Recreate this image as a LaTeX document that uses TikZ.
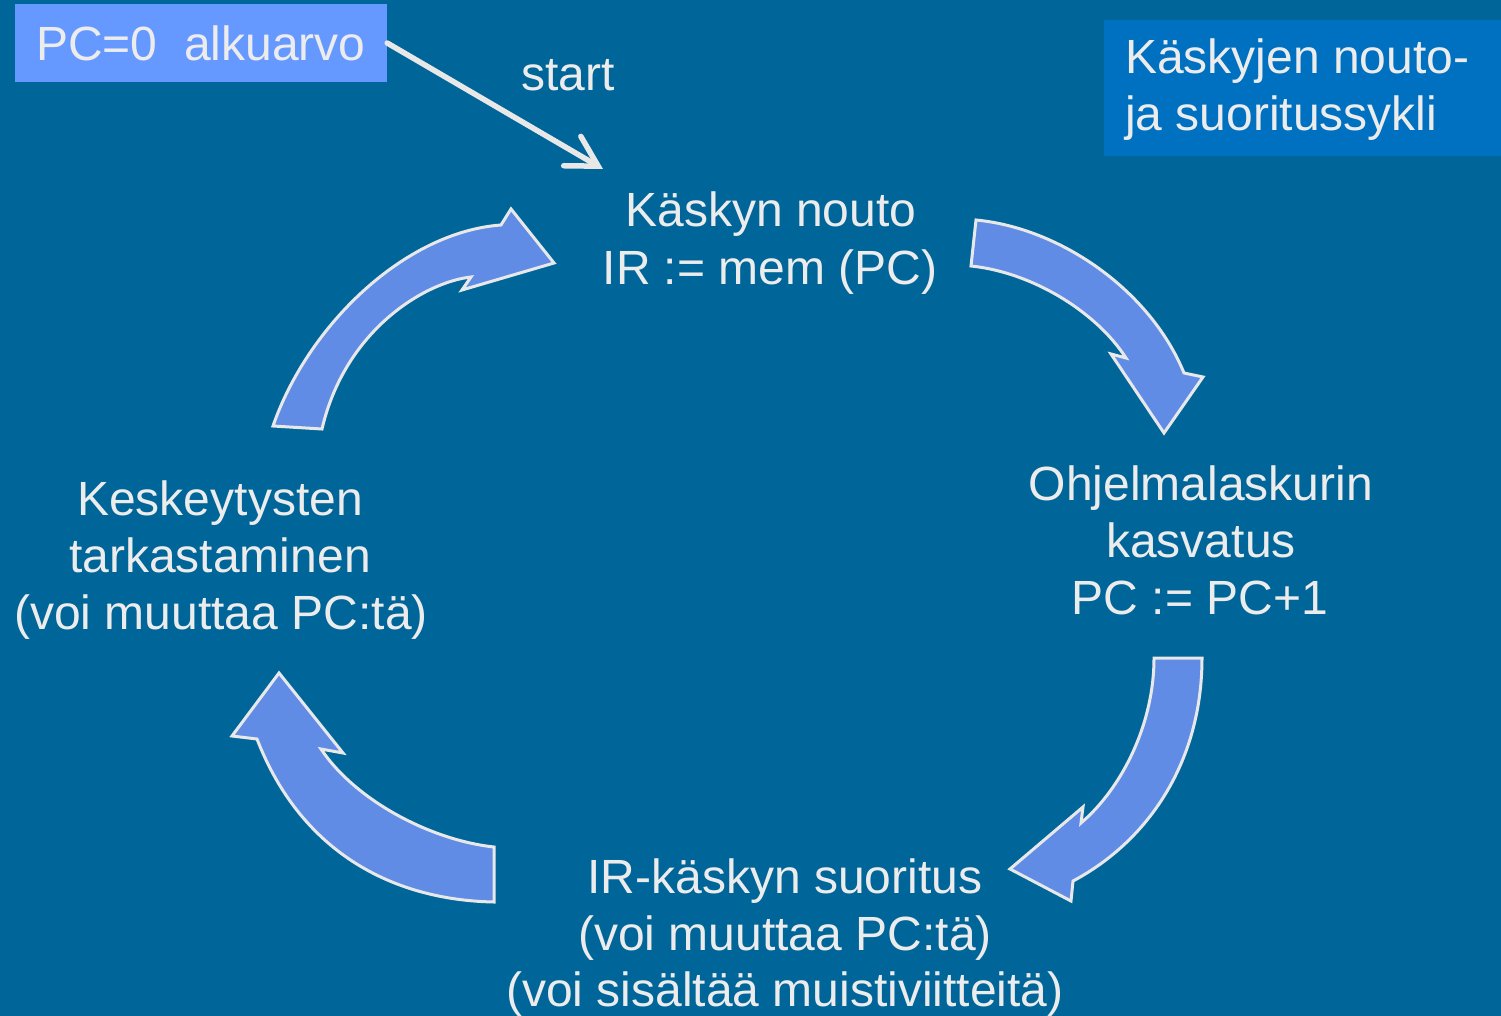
\documentclass[tikz,border=0pt]{standalone}
\usepackage{fontspec}
\setmainfont{Liberation Sans}
\usetikzlibrary{arrows.meta}
\definecolor{bg}{RGB}{0,102,153}
\definecolor{arrowfill}{RGB}{96,140,230}
\definecolor{edgecol}{RGB}{232,232,232}
\definecolor{txt}{RGB}{236,236,236}
\definecolor{initcol}{RGB}{102,153,255}
\definecolor{titlecol}{RGB}{0,112,192}
\begin{document}
\begin{tikzpicture}[x=1pt,y=-1pt,
  bigfont/.style={font=\fontsize{48}{58}\selectfont},
  lbl/.style={bigfont, text=txt, anchor=base, inner sep=0pt},
  blockarrow/.style={fill=arrowfill, draw=edgecol, line width=3pt, line join=miter},
  startarrow/.style={draw=edgecol, line width=5.5pt, line cap=round,
     -{Straight Barb[length=30pt,width=34pt,line cap=round]}},
  initbox/.style={bigfont, fill=initcol, text=txt, inner sep=0pt,
     minimum width=372pt, minimum height=78pt},
  titlebox/.style={fill=titlecol, inner sep=0pt,
     minimum width=397pt, minimum height=136pt}]
\fill[bg] (0,0) rectangle (1501,1016);
\useasboundingbox (0,0) rectangle (1501,1016);

% boxes
\node[initbox] (init) at (201,43) {PC=0\ \ alkuarvo};
\node[titlebox, anchor=north west] (title) at (1104,20) {};
\node[lbl, anchor=base west] (titleA) at (1125,74) {Käskyjen nouto-};
\node[lbl, anchor=base west] (titleB) at (1125,131) {ja suoritussykli};

% start arrow
\coordinate (starttip) at (603,169);
\draw[startarrow] (init.east) -- (starttip);
\node[lbl] (start) at (568,91) {start};

% labels
\node[lbl] (fetchA) at (771,227) {Käskyn nouto};
\node[lbl] (fetchB) at (770,284) {IR := mem (PC)};

\node[lbl] (incA) at (1201,500) {Ohjelmalaskurin};
\node[lbl] (incB) at (1201,557) {kasvatus};
\node[lbl] (incC) at (1200,614) {PC := PC+1};

\node[lbl] (execA) at (785,893) {IR-käskyn suoritus};
\node[lbl] (execB) at (785,950) {(voi muuttaa PC:tä)};
\node[lbl] (execC) at (785,1006) {(voi sisältää muistiviitteitä)};

\node[lbl] (intrA) at (220,515) {Keskeytysten};
\node[lbl] (intrB) at (220,572) {tarkastaminen};
\node[lbl] (intrC) at (221,629) {(voi muuttaa PC:tä)};

% curved block arrows
\filldraw[blockarrow] (976,220) .. controls (1060,228) and (1150,290) .. (1184,373)
  -- (1203,377) -- (1164,433) -- (1111,354) -- (1126,358)
  .. controls (1095,310) and (1030,272) .. (971,266) -- cycle;

\filldraw[blockarrow] (1202,658) .. controls (1202,760) and (1150,840) .. (1073,881)
  -- (1071,901) -- (1010,869) -- (1083,807) -- (1081,823)
  .. controls (1122,788) and (1154,724) .. (1154,658) -- cycle;

\filldraw[blockarrow] (494,902) .. controls (390,900) and (300,850) .. (257,739)
  -- (232,736) -- (279,673) -- (343,753) -- (321,749)
  .. controls (355,800) and (430,840) .. (494,847) -- cycle;

\filldraw[blockarrow] (273,426) .. controls (308,325) and (405,232) .. (501,225)
  -- (511,209) -- (554,263) -- (462,290) -- (471,277)
  .. controls (425,282) and (345,330) .. (322,429) -- cycle;
\end{tikzpicture}
\end{document}
